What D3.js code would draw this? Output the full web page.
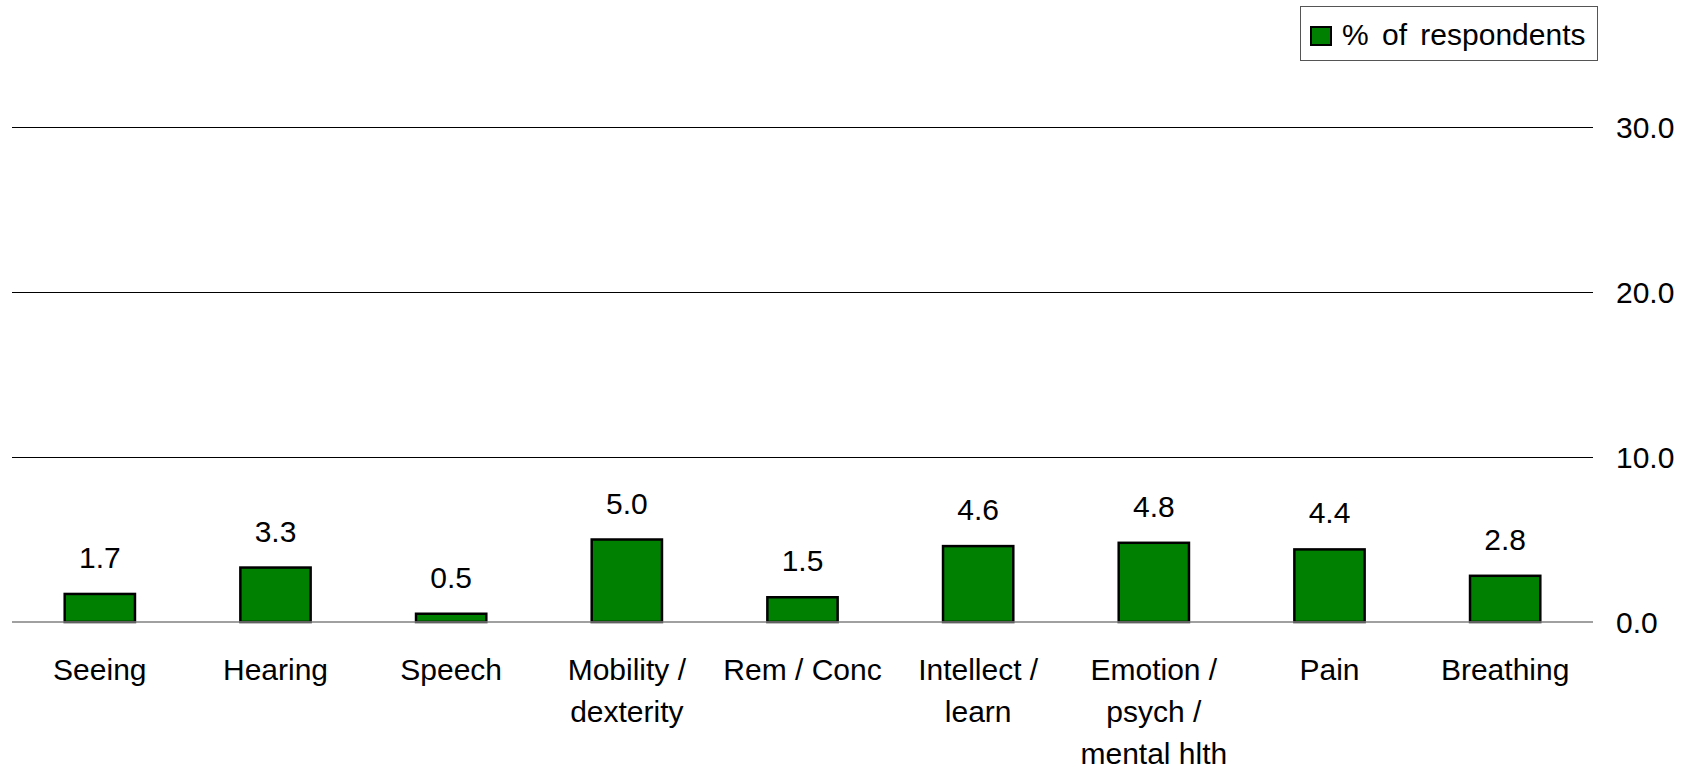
<style>
  body { margin: 0; background: #fff; }
  svg text { font-family: 'Liberation Sans', Arial, sans-serif; font-size: 30px; fill: #000; }
  .grid line { stroke: #000; stroke-width: 1px; }
  .base { stroke: #808080; stroke-width: 1.5px; }
  .bars rect { fill: #008000; stroke: #000; stroke-width: 2.5px; }
</style>
<body>
<div id="chart"></div>
<script src="https://cdn.jsdelivr.net/npm/d3@7"></script>
<script>
var categories = [
  ['Seeing'], ['Hearing'], ['Speech'], ['Mobility /', 'dexterity'], ['Rem / Conc'],
  ['Intellect /', 'learn'], ['Emotion /', 'psych /', 'mental hlth'], ['Pain'], ['Breathing']
];
var values = [1.7, 3.3, 0.5, 5.0, 1.5, 4.6, 4.8, 4.4, 2.8];
var yTicks = [0, 10, 20, 30];
var seriesName = '% of respondents';

var width = 1692, height = 768;
var plotLeft = 12, plotRight = 1593, plotBase = 622, plotTop = 127;

var svg = d3.select('#chart').append('svg')
    .attr('width', width)
    .attr('height', height);

var x = d3.scaleBand()
    .domain(d3.range(categories.length))
    .range([plotLeft, plotRight])
    .paddingInner(0.6)
    .paddingOuter(0.3);

var y = d3.scaleLinear()
    .domain([0, 30])
    .range([plotBase, plotTop]);

// gridlines + right-side labels
var grid = svg.append('g').attr('class', 'grid');
grid.selectAll('line')
    .data(yTicks.filter(function (d) { return d > 0; }))
    .enter().append('line')
    .attr('x1', plotLeft).attr('x2', plotRight)
    .attr('y1', function (d) { return Math.round(y(d)) + 0.5; })
    .attr('y2', function (d) { return Math.round(y(d)) + 0.5; });

svg.append('g').selectAll('text')
    .data(yTicks)
    .enter().append('text')
    .attr('x', 1616)
    .attr('y', function (d) { return y(d); })
    .attr('dy', '0.36em')
    .text(function (d) { return d3.format('.1f')(d); });

// bars
svg.append('g').attr('class', 'bars')
  .selectAll('rect')
    .data(values)
    .enter().append('rect')
    .attr('x', function (d, i) { return x(i); })
    .attr('width', x.bandwidth())
    .attr('y', function (d) { return y(d); })
    .attr('height', function (d) { return plotBase - y(d); });

svg.append('line')
    .attr('class', 'base')
    .attr('x1', plotLeft).attr('x2', plotRight)
    .attr('y1', plotBase).attr('y2', plotBase);

// value labels
svg.append('g').selectAll('text')
    .data(values)
    .enter().append('text')
    .attr('text-anchor', 'middle')
    .attr('x', function (d, i) { return x(i) + x.bandwidth() / 2; })
    .attr('y', function (d) { return y(d) - 26; })
    .text(function (d) { return d3.format('.1f')(d); });

// category labels
var cat = svg.append('g').selectAll('text')
    .data(categories)
    .enter().append('text')
    .attr('text-anchor', 'middle')
    .attr('x', function (d, i) { return x(i) + x.bandwidth() / 2; })
    .attr('y', 680);
cat.selectAll('tspan')
    .data(function (d) { return d; })
    .enter().append('tspan')
    .attr('x', function () { return d3.select(this.parentNode).attr('x'); })
    .attr('dy', function (d, i) { return i === 0 ? 0 : 42; })
    .text(function (d) { return d; });

// legend
var lg = svg.append('g');
lg.append('rect')
    .attr('x', 1300.5).attr('y', 6.5)
    .attr('width', 297).attr('height', 54)
    .attr('fill', '#fff').attr('stroke', '#555').attr('stroke-width', 1);
lg.append('rect')
    .attr('x', 1311).attr('y', 27)
    .attr('width', 20).attr('height', 18)
    .attr('fill', '#008000').attr('stroke', '#000').attr('stroke-width', 2);
lg.append('text')
    .attr('x', 1342).attr('y', 45)
    .style('word-spacing', '5px')
    .text(seriesName);
</script>
</body>
